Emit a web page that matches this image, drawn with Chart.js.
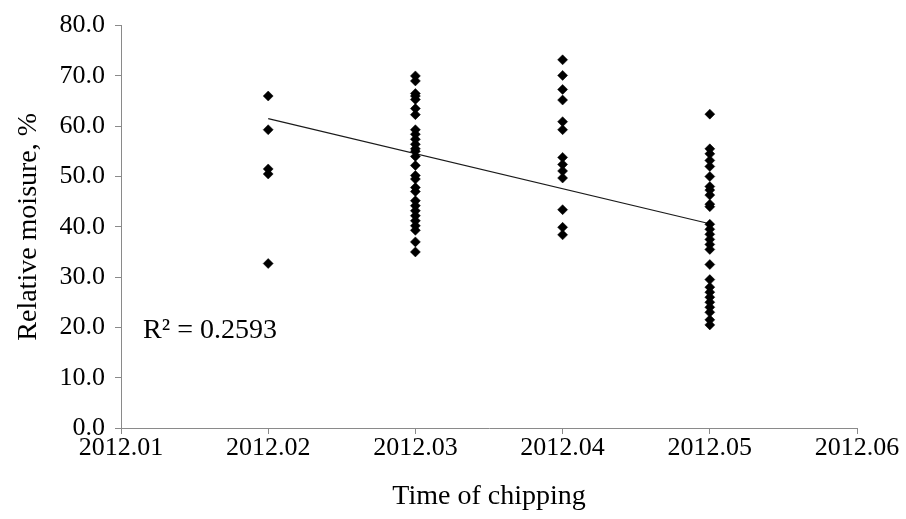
<!DOCTYPE html>
<html>
<head>
<meta charset="utf-8">
<script src="https://cdn.jsdelivr.net/npm/chart.js@4/dist/chart.umd.min.js"></script>
<style>
  html, body { margin: 0; padding: 0; background: #ffffff; }
  #c { display: block; }
</style>
</head>
<body>
<canvas id="c" width="906" height="519"></canvas>
<script>
// Tick labels along the time axis (month positions 1..6)
const tickLabels = ['2012.01', '2012.02', '2012.03', '2012.04', '2012.05', '2012.06'];

// Chipping month of each sample group (position on the time axis)
const groupMonths = [2, 3, 4, 5];

// Relative moisture, % — one array per chipping month
const moistureFeb = [66.0, 59.3, 51.5, 50.5, 32.7];
const moistureMar = [70.0, 69.0, 66.5, 66.0, 65.3, 63.5, 62.3, 59.3, 58.4, 57.4, 56.4, 55.5, 55.0, 54.0,
                     52.2, 50.2, 49.5, 47.8, 47.0, 45.2, 44.2, 43.2, 42.2, 41.2, 40.2, 39.3, 37.0, 35.0];
const moistureApr = [73.2, 70.1, 67.3, 65.2, 60.9, 59.3, 53.8, 52.4, 51.1, 49.7, 43.4, 39.9, 38.4];
const moistureMay = [62.4, 55.5, 54.5, 53.2, 52.0, 50.0, 48.0, 47.3, 46.3, 44.5, 44.0, 40.5, 39.5, 38.5,
                     37.5, 36.5, 35.5, 32.5, 29.5, 28.0, 27.0, 26.0, 25.0, 24.0, 23.0, 21.5, 20.5];

// Linear trend line end points
const trendMonths = [2, 5];
const trendValues = [61.5, 40.6];

// Fit statistic shown on the plot
const rSquaredText = 'R\u00B2 = 0.2593';

const groups = [moistureFeb, moistureMar, moistureApr, moistureMay];
const scatterPoints = [];
groups.forEach((vals, i) => {
  vals.forEach(v => scatterPoints.push({ x: groupMonths[i], y: v }));
});
const trendPoints = trendMonths.map((m, i) => ({ x: m, y: trendValues[i] }));

const FONT = "'Liberation Serif', 'Times New Roman', serif";
const AXIS_GREY = '#8a8a8a';

// Writes the R² annotation in data coordinates
const r2Label = {
  id: 'r2Label',
  afterDatasetsDraw(chart) {
    const { ctx, scales } = chart;
    const px = scales.x.getPixelForValue(1.15);
    const py = scales.y.getPixelForValue(19.3);
    ctx.save();
    ctx.font = '28px ' + FONT;
    ctx.fillStyle = '#000000';
    ctx.textAlign = 'left';
    ctx.textBaseline = 'middle';
    ctx.fillText(rSquaredText, px, py);
    ctx.restore();
  }
};

new Chart(document.getElementById('c'), {
  type: 'scatter',
  data: {
    datasets: [
      {
        label: 'Relative moisture',
        data: scatterPoints,
        pointStyle: 'rectRot',
        pointRadius: 5,
        pointHoverRadius: 5,
        backgroundColor: '#000000',
        borderColor: '#000000',
        borderWidth: 0.5,
        order: 1
      },
      {
        label: 'Linear trend',
        type: 'line',
        data: trendPoints,
        showLine: true,
        borderColor: '#1a1a1a',
        borderWidth: 1.2,
        pointRadius: 0,
        fill: false,
        order: 2
      }
    ]
  },
  options: {
    responsive: false,
    animation: false,
    layout: { padding: { left: 0, right: 49, top: 19, bottom: 0 } },
    plugins: {
      legend: { display: false },
      tooltip: { enabled: false }
    },
    scales: {
      x: {
        type: 'linear',
        min: 1,
        max: 6,
        afterFit(scale) { scale.height = 91; },
        border: { display: true, color: AXIS_GREY, width: 1 },
        grid: { display: true, drawOnChartArea: false, drawTicks: true, tickLength: 6, color: AXIS_GREY },
        ticks: {
          stepSize: 1,
          padding: -1,
          color: '#000000',
          font: { family: FONT, size: 26 },
          maxRotation: 0,
          callback: (v) => tickLabels[Math.round(v) - 1]
        },
        title: {
          display: true,
          text: 'Time of chipping',
          color: '#000000',
          font: { family: FONT, size: 28 },
          padding: { top: 0, bottom: 6 }
        }
      },
      y: {
        min: 0,
        max: 80,
        afterFit(scale) { scale.width = 121; },
        border: { display: true, color: AXIS_GREY, width: 1 },
        grid: { display: true, drawOnChartArea: false, drawTicks: true, tickLength: 6, color: AXIS_GREY },
        ticks: {
          stepSize: 10,
          padding: 10,
          color: '#000000',
          font: { family: FONT, size: 26 },
          callback: (v) => v.toFixed(1)
        },
        title: {
          display: true,
          text: 'Relative moisure, %',
          color: '#000000',
          font: { family: FONT, size: 28 },
          padding: { top: 12, bottom: 0 }
        }
      }
    }
  },
  plugins: [r2Label]
});
</script>
</body>
</html>
